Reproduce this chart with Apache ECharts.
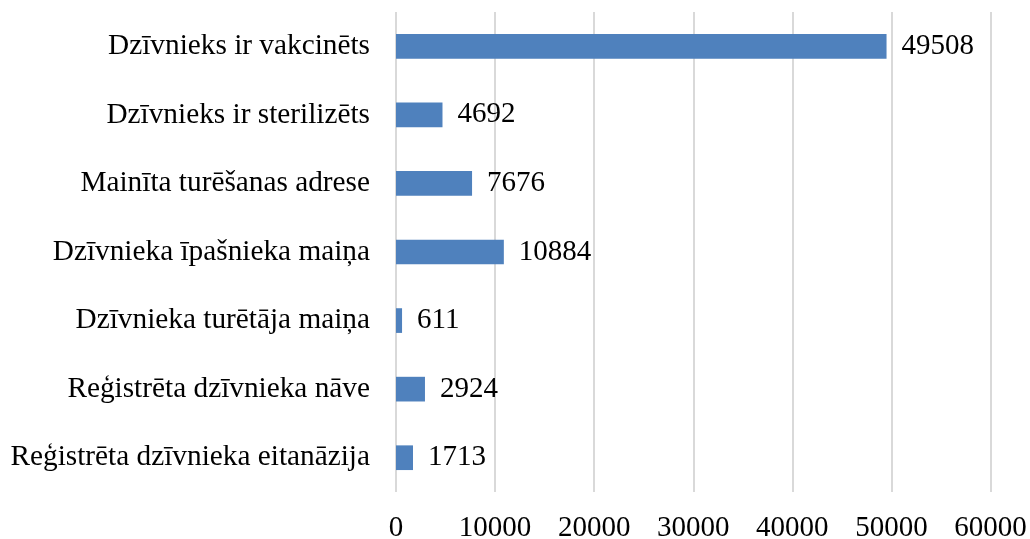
<!DOCTYPE html>
<html><head><meta charset="utf-8">
<script src="https://cdn.jsdelivr.net/npm/echarts@6/dist/echarts.min.js"></script>
<style>html,body{margin:0;padding:0;background:#fff}#c{width:1030px;height:539px}</style>
</head><body><div id="c"></div>
<script>
const categories = [
  "Dzīvnieks ir vakcinēts",
  "Dzīvnieks ir sterilizēts",
  "Mainīta turēšanas adrese",
  "Dzīvnieka īpašnieka maiņa",
  "Dzīvnieka turētāja maiņa",
  "Reģistrēta dzīvnieka nāve",
  "Reģistrēta dzīvnieka eitanāzija"
];
const values = [49508, 4692, 7676, 10884, 611, 2924, 1713];
const axisMin = 0, axisMax = 60000, axisStep = 10000;

const font = "'Liberation Serif','Times New Roman',serif";
const chart = echarts.init(document.getElementById('c'), null, {renderer:'canvas'});
chart.setOption({
  animation:false,
  backgroundColor:'#fff',
  grid:{left:396, right:39.5, top:12, bottom:47, containLabel:false, outerBoundsMode:'none'},
  xAxis:{type:'value', min:axisMin, max:axisMax, interval:axisStep,
    axisLine:{show:false}, axisTick:{show:false},
    splitLine:{show:true, lineStyle:{color:'#d9d9d9', width:2}},
    axisLabel:{color:'#000', fontFamily:font, fontSize:29, margin:22, formatter:(v)=>String(v)}},
  yAxis:{type:'category', inverse:true, data:categories,
    axisLine:{show:false}, axisTick:{show:false},
    axisLabel:{color:'#000', fontFamily:font, fontSize:29.3, margin:26}},
  series:[{type:'bar', data:values, barCategoryGap:'64%',
    itemStyle:{color:'#4f81bd'},
    label:{show:true, position:'right', distance:15, color:'#000', fontFamily:font, fontSize:29}}]
});
</script></body></html>
